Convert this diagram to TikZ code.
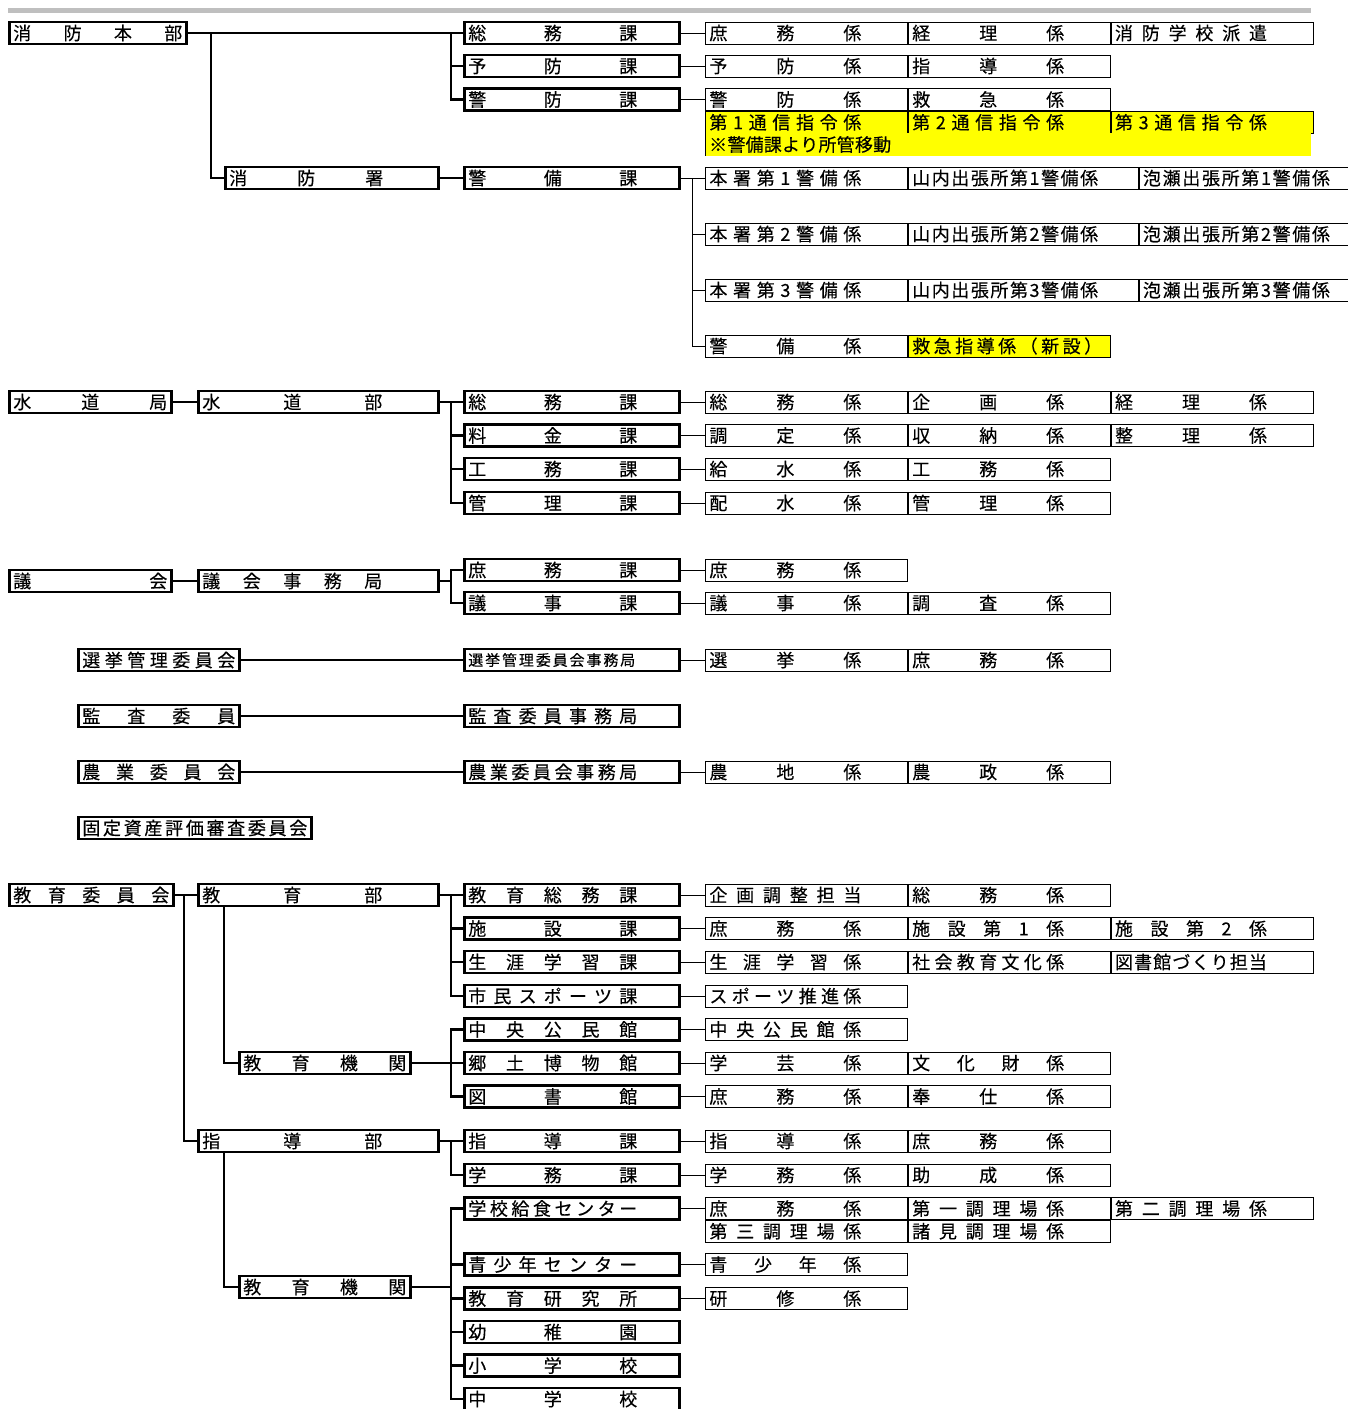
\documentclass[tikz,border=0pt]{standalone}
\usepackage{fontspec}
\usepackage{tikz}
\usetikzlibrary{positioning}
\newfontfamily\jpfont[FakeBold=0.3]{Noto Sans CJK JP}
\definecolor{barGray}{RGB}{191,191,191}
\definecolor{newYellow}{RGB}{255,255,0}
\newcommand\orgfont{\jpfont\fontsize{18}{21}\selectfont}
\newcommand\orgsmall{\jpfont\fontsize{15}{18}\selectfont}
\newlength\sprw
\makeatletter
\def\spr@loop#1#2\@nil{#1\if\relax\detokenize{#2}\relax\else\hfill\spr@loop#2\@nil\fi}
\newcommand\spread[1]{\makebox[\sprw][l]{\expandafter\spr@loop#1\@nil}}
\makeatother

\begin{document}
\begin{tikzpicture}[x=1pt,y=-1pt,
		orgbox/.style={draw,font=\orgfont,inner xsep=4pt,inner ysep=0pt,minimum height=22pt,anchor=west,align=left},
		heavy/.style={orgbox,line width=2.6pt},
		light/.style={orgbox,line width=0.8pt},
		wd/.style 2 args={text width=#1,execute at begin node={\setlength{\sprw}{#2}}},
		bu/.style={heavy,wd={232pt}{180pt}},
		iin/.style={heavy,wd={153pt}{153pt}},
		kikan/.style={heavy,wd={163pt}{163pt}},
		ka/.style={heavy,wd={207pt}{169pt}},
		kakari/.style={light,wd={194pt}{152pt}},
		link/.style={line width=2.6pt},
		sublink/.style={line width=0.8pt}]
	\useasboundingbox (0,0) rectangle (1348,1409);
	\fill[barGray] (8,8) rectangle (1311,13);
	
	% Fire department.
	\node[heavy,wd={169pt}{169pt}] (honbu) at (8,33) {\spread{消防本部}};
	\node[heavy,wd={205pt}{154pt}] (shobosho) at (224,178) {\spread{消防署}};
	\node[ka] (somuka) at (463,33) {\spread{総務課}};
	\node[ka] (yoboka) at (463,66) {\spread{予防課}};
	\node[ka] (keiboka) at (463,99.5) {\spread{警防課}};
	\node[ka] (keibika) at (463,178) {\spread{警備課}};
	
	\node[kakari] (fa1) at (705,33) {\spread{庶務係}};
	\node[kakari,right=0pt of fa1] (fa2) {\spread{経理係}};
	\node[kakari,right=0pt of fa2] (fa3) {\spread{消防学校派遣}};
	\node[kakari] (fb1) at (705,66) {\spread{予防係}};
	\node[kakari,right=0pt of fb1] (fb2) {\spread{指導係}};
	\node[kakari] (fc1) at (705,99.5) {\spread{警防係}};
	\node[kakari,right=0pt of fc1] (fc2) {\spread{救急係}};
	\node[kakari,fill=newYellow,below=0pt of fc1] (fd1) {\spread{第1通信指令係}};
	\node[kakari,fill=newYellow,right=0pt of fd1] (fd2) {\spread{第2通信指令係}};
	\node[kakari,fill=newYellow,right=0pt of fd2] (fd3) {\spread{第3通信指令係}};
	\node[orgbox,draw=none,fill=newYellow,minimum height=23pt,wd={598pt}{182pt}] (idou) at (705,144.5) {\spread{※警備課より所管移動}};
	\draw[sublink] (idou.north west) -- (idou.south west);
	
	\foreach \i/\y in {1/178,2/234,3/290}{
		\node[kakari] (hon\i) at (705,\y) {\spread{本署第\i 警備係}};
		\node[light,wd={222pt}{186pt},right=0pt of hon\i] (yama\i) {\spread{山内出張所第\i 警備係}};
		\node[light,wd={203pt}{187pt},right=0pt of yama\i] (awa\i) {\spread{泡瀬出張所第\i 警備係}};
	}
	\node[kakari] (keibikakari) at (705,346) {\spread{警備係}};
	\node[kakari,fill=newYellow,wd={194pt}{190pt},right=0pt of keibikakari] (kyukyushido) {\spread{救急指導係（新設）}};
	
	\draw[link] (honbu.east) -- (somuka.west);
	\draw[link] (somuka.west) -- ++(-12,0) |- (keiboka.west);
	\draw[link] (yoboka.west) -- ++(-12,0);
	\draw[link] (honbu.east) -| ([xshift=-13pt]shobosho.west) -- (shobosho.west);
	\draw[link] (shobosho.east) -- (keibika.west);
	\draw[sublink] (keibika.east) -- (hon1.west);
	\draw[sublink] ([xshift=-13pt]hon1.west) |- (keibikakari.west);
	\draw[sublink] (hon2.west) -- ++(-13,0);
	\draw[sublink] (hon3.west) -- ++(-13,0);
	
	% Waterworks bureau.
	\node[heavy,wd={154pt}{154pt}] (suidokyoku) at (8,402) {\spread{水道局}};
	\node[bu] (suidobu) at (197,402) {\spread{水道部}};
	\node[ka] (wsomuka) at (463,402) {\spread{総務課}};
	\node[ka] (ryokinka) at (463,435.5) {\spread{料金課}};
	\node[ka] (komuka) at (463,469) {\spread{工務課}};
	\node[ka] (kanrika) at (463,503) {\spread{管理課}};
	
	\node[kakari] (wa1) at (705,402) {\spread{総務係}};
	\node[kakari,right=0pt of wa1] (wa2) {\spread{企画係}};
	\node[kakari,right=0pt of wa2] (wa3) {\spread{経理係}};
	\node[kakari] (wb1) at (705,435.5) {\spread{調定係}};
	\node[kakari,right=0pt of wb1] (wb2) {\spread{収納係}};
	\node[kakari,right=0pt of wb2] (wb3) {\spread{整理係}};
	\node[kakari] (wc1) at (705,469) {\spread{給水係}};
	\node[kakari,right=0pt of wc1] (wc2) {\spread{工務係}};
	\node[kakari] (we1) at (705,503) {\spread{配水係}};
	\node[kakari,right=0pt of we1] (we2) {\spread{管理係}};
	
	\draw[link] (suidokyoku.east) -- (suidobu.west);
	\draw[link] (suidobu.east) -- (wsomuka.west);
	\draw[link] (wsomuka.west) -- ++(-12,0) |- (kanrika.west);
	\draw[link] (ryokinka.west) -- ++(-12,0);
	\draw[link] (komuka.west) -- ++(-12,0);
	
	% City council.
	\node[heavy,wd={154pt}{154pt}] (gikai) at (8,581) {\spread{議会}};
	\node[bu] (gikaijim) at (197,581) {\spread{議会事務局}};
	\node[ka] (shomuka) at (463,570) {\spread{庶務課}};
	\node[ka] (gijika) at (463,603) {\spread{議事課}};
	\node[kakari] (ga1) at (705,570) {\spread{庶務係}};
	\node[kakari] (gb1) at (705,603) {\spread{議事係}};
	\node[kakari,right=0pt of gb1] (gb2) {\spread{調査係}};
	
	\draw[link] (gikai.east) -- (gikaijim.west);
	\draw[link] (gikaijim.east) -| ([xshift=-12pt]shomuka.west);
	\draw[link] (shomuka.west) -- ++(-12,0) |- (gijika.west);
	
	% Committees.
	\node[iin] (senkyoiin) at (77,660) {\spread{選挙管理委員会}};
	\node[ka,font=\orgsmall,wd={207pt}{167pt}] (senkyojim) at (463,660) {\spread{選挙管理委員会事務局}};
	\node[kakari] (sa1) at (705,660) {\spread{選挙係}};
	\node[kakari,right=0pt of sa1] (sa2) {\spread{庶務係}};
	\node[iin] (kansaiin) at (77,716) {\spread{監査委員}};
	\node[ka] (kansajim) at (463,716) {\spread{監査委員事務局}};
	\node[iin] (nogyoiin) at (77,772) {\spread{農業委員会}};
	\node[ka] (nogyojim) at (463,772) {\spread{農業委員会事務局}};
	\node[kakari] (na1) at (705,772) {\spread{農地係}};
	\node[kakari,right=0pt of na1] (na2) {\spread{農政係}};
	\node[heavy,wd={225pt}{225pt}] (kotei) at (77,828) {\spread{固定資産評価審査委員会}};
	
	\draw[link] (senkyoiin.east) -- (senkyojim.west);
	\draw[link] (kansaiin.east) -- (kansajim.west);
	\draw[link] (nogyoiin.east) -- (nogyojim.west);
	
	% Board of education.
	\node[heavy,wd={156pt}{156pt}] (kyoikui) at (8,895) {\spread{教育委員会}};
	\node[bu] (kyoikubu) at (197,895) {\spread{教育部}};
	\node[bu] (shidobu) at (197,1141) {\spread{指導部}};
	\node[kikan] (kikan1) at (238,1063) {\spread{教育機関}};
	\node[kikan] (kikan2) at (238,1287) {\spread{教育機関}};
	\foreach \n/\y/\t in {ksomuka/895/教育総務課,shisetsuka/928.5/施設課,shogaika/962/生涯学習課,
		sportska/996/市民スポーツ課,chuokomin/1029.5/中央公民館,kyodo/1063/郷土博物館,
		toshokan/1096.5/図書館,shidoka/1141/指導課,gakumuka/1175/学務課,
		kyushoku/1208.5/学校給食センター,seishonen/1264.5/青少年センター,kenkyujo/1298.5/教育研究所,
		yochien/1332/幼稚園,shogakko/1365.5/小学校,chugakko/1399/中学校}
	\node[ka] (\n) at (463,\y) {\spread{\t}};
	
	\node[kakari] (e1a) at (705,895) {\spread{企画調整担当}};
	\node[kakari,right=0pt of e1a] (e1b) {\spread{総務係}};
	\node[kakari] (e2a) at (705,928.5) {\spread{庶務係}};
	\node[kakari,right=0pt of e2a] (e2b) {\spread{施設第1係}};
	\node[kakari,right=0pt of e2b] (e2c) {\spread{施設第2係}};
	\node[kakari] (e3a) at (705,962) {\spread{生涯学習係}};
	\node[kakari,right=0pt of e3a] (e3b) {\spread{社会教育文化係}};
	\node[kakari,right=0pt of e3b] (e3c) {\spread{図書館づくり担当}};
	\node[kakari] (e4a) at (705,996) {\spread{スポーツ推進係}};
	\node[kakari] (e5a) at (705,1029.5) {\spread{中央公民館係}};
	\node[kakari] (e6a) at (705,1063) {\spread{学芸係}};
	\node[kakari,right=0pt of e6a] (e6b) {\spread{文化財係}};
	\node[kakari] (e7a) at (705,1096.5) {\spread{庶務係}};
	\node[kakari,right=0pt of e7a] (e7b) {\spread{奉仕係}};
	\node[kakari] (e8a) at (705,1141) {\spread{指導係}};
	\node[kakari,right=0pt of e8a] (e8b) {\spread{庶務係}};
	\node[kakari] (e9a) at (705,1175) {\spread{学務係}};
	\node[kakari,right=0pt of e9a] (e9b) {\spread{助成係}};
	\node[kakari] (e10a) at (705,1208.5) {\spread{庶務係}};
	\node[kakari,right=0pt of e10a] (e10b) {\spread{第一調理場係}};
	\node[kakari,right=0pt of e10b] (e10c) {\spread{第二調理場係}};
	\node[kakari,below=0pt of e10a] (e10d) {\spread{第三調理場係}};
	\node[kakari,right=0pt of e10d] (e10e) {\spread{諸見調理場係}};
	\node[kakari] (e11a) at (705,1264.5) {\spread{青少年係}};
	\node[kakari] (e12a) at (705,1298.5) {\spread{研修係}};
	
	\draw[link] (kyoikui.east) -- (kyoikubu.west);
	\draw[link] (kyoikui.east) -| ([xshift=-13pt]shidobu.west) -- (shidobu.west);
	\draw[link] (kyoikubu.east) -- (ksomuka.west);
	\draw[link] (ksomuka.west) -- ++(-12,0) |- (sportska.west);
	\draw[link] ([xshift=27pt]kyoikubu.south west) |- (kikan1.west);
	\draw[link] (kikan1.east) -- (kyodo.west);
	\draw[link] (chuokomin.west) -- ++(-12,0) |- (toshokan.west);
	\draw[link] (shidobu.east) -- (shidoka.west);
	\draw[link] (shidoka.west) -- ++(-12,0) |- (gakumuka.west);
	\draw[link] ([xshift=27pt]shidobu.south west) |- (kikan2.west);
	\draw[link] (kikan2.east) -- ([xshift=-12pt]kikan2.east -| kenkyujo.west);
	\draw[link] (kyushoku.west) -- ++(-12,0) |- (chugakko.west);
	\foreach \n in {shisetsuka,shogaika,seishonen,kenkyujo,yochien,shogakko}
	\draw[link] (\n.west) -- ++(-12,0);
	
	% Sections to their subsections.
	\foreach \a/\b in {somuka/fa1,yoboka/fb1,keiboka/fc1,wsomuka/wa1,ryokinka/wb1,komuka/wc1,
		kanrika/we1,shomuka/ga1,gijika/gb1,senkyojim/sa1,nogyojim/na1,ksomuka/e1a,shisetsuka/e2a,
		shogaika/e3a,sportska/e4a,chuokomin/e5a,kyodo/e6a,toshokan/e7a,shidoka/e8a,gakumuka/e9a,
		kyushoku/e10a,seishonen/e11a,kenkyujo/e12a}
	\draw[sublink] (\a.east) -- (\b.west);
\end{tikzpicture}
\end{document}
